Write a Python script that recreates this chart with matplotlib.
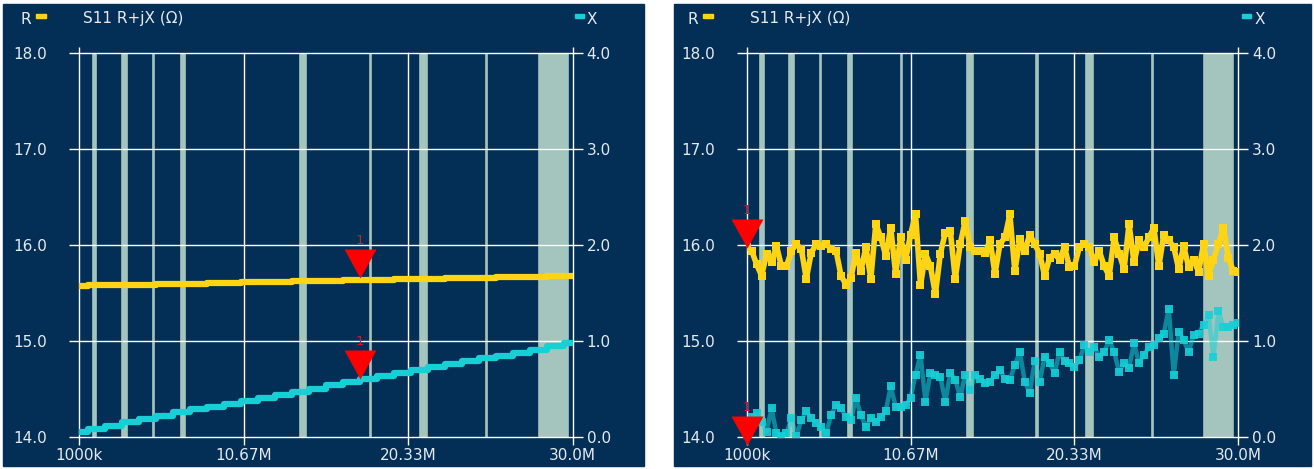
import numpy as np
import matplotlib.pyplot as plt
from matplotlib.patches import Rectangle

# sweep points, 1 MHz .. 30 MHz
freq_left = np.linspace(1, 30, 30)
r_left = [15.57, 15.58, 15.58, 15.59, 15.59, 15.60, 15.60, 15.60, 15.61, 15.61,
          15.62, 15.62, 15.62, 15.63, 15.63, 15.63, 15.64, 15.64, 15.64, 15.65,
          15.65, 15.65, 15.66, 15.66, 15.66, 15.67, 15.67, 15.67, 15.68, 15.68]
x_left = [0.05, 0.09, 0.12, 0.16, 0.19, 0.22, 0.26, 0.29, 0.32, 0.35,
          0.38, 0.41, 0.44, 0.47, 0.50, 0.54, 0.58, 0.61, 0.64, 0.67,
          0.70, 0.73, 0.76, 0.79, 0.82, 0.85, 0.88, 0.91, 0.95, 0.98]

freq_right = np.linspace(1, 30, 100)
r_right = [15.98, 15.94, 15.80, 15.68, 15.91, 15.82, 15.99, 15.78, 15.78, 15.94,
           16.01, 15.96, 15.65, 15.92, 16.01, 15.99, 16.01, 15.96, 15.94, 15.68,
           15.59, 15.66, 15.92, 15.73, 15.98, 15.65, 16.22, 16.08, 15.89, 16.18,
           15.70, 16.08, 15.85, 16.11, 16.32, 15.58, 15.91, 15.78, 15.49, 15.91,
           16.13, 16.15, 15.65, 16.01, 16.25, 15.98, 15.94, 15.94, 15.92, 16.05,
           15.70, 16.01, 16.08, 16.32, 15.73, 16.06, 15.94, 16.11, 16.01, 15.91,
           15.68, 15.87, 15.91, 15.85, 15.98, 15.77, 15.78, 15.98, 16.01, 15.98,
           15.82, 15.94, 15.78, 15.68, 16.08, 15.91, 15.75, 16.22, 15.82, 16.05,
           15.98, 16.08, 16.18, 15.78, 16.11, 16.05, 15.98, 15.75, 15.99, 15.77,
           15.85, 15.72, 16.01, 15.68, 15.85, 16.01, 16.18, 15.87, 15.73, 15.72]
x_right = [-0.08, 0.21, 0.25, 0.16, 0.06, 0.30, 0.04, 0.01, 0.04, 0.20,
           0.01, 0.18, 0.27, 0.20, 0.15, 0.11, 0.04, 0.23, 0.34, 0.30,
           0.21, 0.18, 0.41, 0.23, 0.11, 0.20, 0.16, 0.21, 0.27, 0.53,
           0.32, 0.32, 0.34, 0.41, 0.65, 0.86, 0.37, 0.67, 0.65, 0.63,
           0.37, 0.67, 0.60, 0.42, 0.65, 0.49, 0.65, 0.61, 0.56, 0.58,
           0.65, 0.70, 0.61, 0.60, 0.75, 0.89, 0.58, 0.46, 0.79, 0.58,
           0.84, 0.77, 0.67, 0.89, 0.79, 0.77, 0.73, 0.80, 0.96, 0.89,
           0.94, 0.84, 0.89, 1.01, 0.89, 0.68, 0.77, 0.72, 0.98, 0.77,
           0.86, 0.94, 0.96, 1.03, 1.08, 1.34, 0.65, 1.10, 1.01, 0.89,
           1.06, 1.08, 1.17, 1.27, 0.84, 1.31, 1.15, 1.15, 1.17, 1.19]

# marker 1 (freq MHz, R, X)
marker_left = (17.5, 15.66, 0.61)
marker_right = (1.0, 15.97, -0.08)

# ham bands (MHz)
band_lo = [1.8, 3.5, 5.33, 7.0, 10.1, 14.0, 18.068, 21.0, 24.89, 28.0]
band_hi = [2.0, 3.8, 5.41, 7.2, 10.15, 14.35, 18.168, 21.45, 24.99, 29.7]

tick_freqs = [1, 10.667, 20.333, 30]
tick_labels = ['1000k', '10.67M', '20.33M', '30.0M']
r_ticks = [14, 15, 16, 17, 18]
x_ticks = [0, 1, 2, 3, 4]

W, H = 1314, 469
BG = '#032f57'
BAND = '#a4c5bd'
YEL = '#ffd414'
CYAN = '#17d0d6'
TXT = '#e4eaf0'
RED = '#ff0000'

fig = plt.figure(figsize=(W / 100, H / 100), dpi=100)
fig.patch.set_facecolor('white')
plt.rcParams['font.family'] = ['DejaVu Sans']
FS = 11
PT = 0.72  # points per pixel at dpi 100


def px(x, y):
    return x / W, 1 - y / H


def panel(p0, p1, a0, a1, skip=()):
    fig.patches.append(Rectangle(px(p0, 466), (p1 - p0) / W, 462 / H,
                                 transform=fig.transFigure, color=BG, zorder=-5))
    ax = fig.add_axes([a0 / W, 1 - 437.3 / H, (a1 - a0) / W, (437.3 - 52.9) / H])
    ax.set_facecolor('none')
    for s in ax.spines.values():
        s.set_visible(False)
    ax.set_xlim(1, 30)
    ax.set_ylim(14, 18)

    for i, (lo, hi) in enumerate(zip(band_lo, band_hi)):
        if i in skip:
            continue
        ax.axvspan(lo, hi, color=BAND, lw=1.2, zorder=1)
    for f in tick_freqs:
        ax.axvline(f, color='white', lw=1.0, zorder=1.5, clip_on=False)
    for v in r_ticks:
        ax.axhline(v, color='white', lw=1.0, zorder=1.5, clip_on=False)
    ax.vlines([1, 30], 18, 18.06, color='white', lw=1.0, clip_on=False)

    ax.set_xticks(tick_freqs)
    ax.set_xticklabels(tick_labels)
    ax.set_yticks(r_ticks)
    ax.set_yticklabels(['%.1f' % v for v in r_ticks])
    ax.tick_params(axis='x', length=8 * PT, width=1, color='white', labelcolor=TXT,
                   labelsize=FS, pad=2)
    ax.tick_params(axis='y', length=10 * PT, width=1, color='white', labelcolor=TXT,
                   labelsize=FS, pad=22 * PT)

    ax2 = ax.twinx()
    for s in ax2.spines.values():
        s.set_visible(False)
    ax2.set_ylim(0, 4)
    ax2.set_yticks(x_ticks)
    ax2.set_yticklabels(['%.1f' % v for v in x_ticks])
    ax2.tick_params(axis='y', length=10 * PT, width=1, color='white', labelcolor=TXT,
                    labelsize=FS, pad=4 * PT)
    return ax, ax2


# left panel: smooth traces
ax, ax2 = panel(3, 644, 79.3, 572.7, skip=(4,))
ax.plot(freq_left, r_left, color=YEL, lw=4.5, drawstyle='steps-mid', zorder=3)
ax2.plot(freq_left, x_left, color=CYAN, lw=4.5, drawstyle='steps-mid', zorder=3)
axes_marks = [(ax, ax2, marker_left)]

# right panel: noisy traces
bx, bx2 = panel(674, 1311, 746.7, 1238.3)
bx.plot(freq_right, r_right, color=YEL, lw=4.0, zorder=3)
bx.plot(freq_right, r_right, 's', color=YEL, ms=5.5, mew=0, zorder=3)
bx2.plot(freq_right, x_right, color=CYAN, lw=3.2, alpha=0.55, zorder=3)
bx2.plot(freq_right, x_right, 's', color=CYAN, ms=5.5, mew=0, alpha=0.9, zorder=3)
axes_marks.append((bx, bx2, marker_right))

# marker triangles, tip on the trace
tri = [(0, 0), (-16, 29), (16, 29), (0, 0)]
for a, a2, (mf, mr, mx) in axes_marks:
    for axis, val in ((a, mr), (a2, mx)):
        axis.plot([mf], [val], marker=tri, ms=58 * PT, color=RED, mew=0,
                  zorder=5, clip_on=False)
        axis.annotate('1', (mf, val), xytext=(0, 31 * PT), textcoords='offset points',
                      ha='center', va='bottom', color='#e0102e', fontsize=9.5,
                      zorder=6, annotation_clip=False)

# header legends
for off in (0, 667.4):
    fig.text(*px(20 + off, 19), 'R', color=TXT, fontsize=FS, va='center')
    fig.patches.append(Rectangle(px(36 + off, 18), 10 / W, 4 / H,
                                 transform=fig.transFigure, color=YEL))
    fig.text(*px(83 + off, 19), 'S11 R+jX (\u03a9)', color=TXT, fontsize=FS, va='center')
    fig.patches.append(Rectangle(px(575 + off, 18), 9 / W, 4 / H,
                                 transform=fig.transFigure, color=CYAN))
    fig.text(*px(587 + off, 19), 'X', color=TXT, fontsize=FS, va='center')

fig.savefig('out.png', dpi=100)
